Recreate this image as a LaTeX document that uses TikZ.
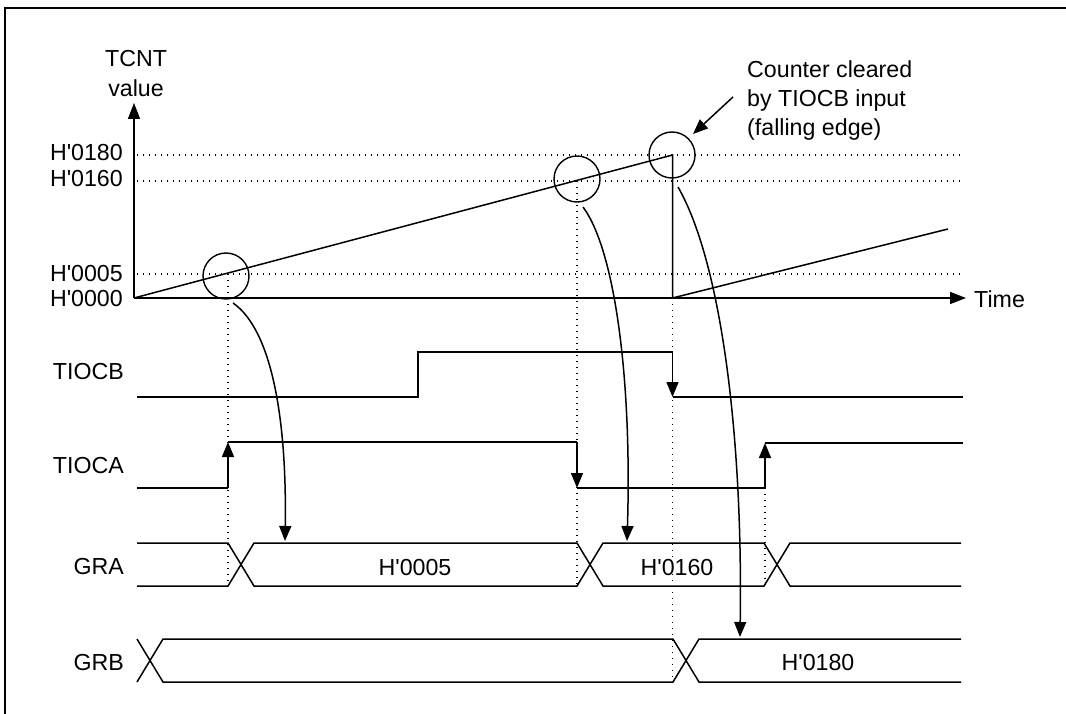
\documentclass[tikz,border=0pt]{standalone}
\usepackage{fontspec}
\newfontfamily\arialfont{Liberation Sans}
\usetikzlibrary{arrows.meta}
\begin{document}
\begin{tikzpicture}[x=1pt,y=-1pt,
  wire/.style={line width=1.5pt, line join=miter},
  dots/.style={line width=1.2pt, dash pattern=on 1.2pt off 4.8pt},
  tip/.style={-{Triangle[length=15pt,width=12pt]}},
  lbl/.style={font=\arialfont\fontsize{23.2}{27}\selectfont, inner sep=0pt},
  ring/.style={circle, draw, line width=1.4pt, minimum size=46pt, inner sep=0pt},
]
\useasboundingbox (0,0) rectangle (1066,714);
% frame
\draw[line width=1.5pt] (5,714) -- (5,8) -- (1066,8);

% axes
\coordinate (O) at (134,298);
\coordinate (ytop) at (134,103);
\coordinate (xend) at (966,298);
\draw[wire,-{Triangle[length=16pt,width=12pt]}] (O) -- (ytop);
\draw[wire,-{Triangle[length=16pt,width=12pt]}] (O) -- (xend);
\node[lbl,anchor=base] (tcnt) at (136,67) {TCNT};
\node[lbl,anchor=base] (val) at (136,97) {value};
\node[lbl,anchor=base west] (time) at (974,307) {Time};

% value labels
\node[lbl,anchor=base east] (h180) at (123,161) {H'0180};
\node[lbl,anchor=base east] (h160) at (123,187) {H'0160};
\node[lbl,anchor=base east] (h005) at (123,282) {H'0005};
\node[lbl,anchor=base east] (h000) at (123,306) {H'0000};

% horizontal dotted levels
\draw[dots] (137,155) -- (963,155);
\draw[dots] (137,181) -- (963,181);
\draw[dots] (137,274) -- (963,274);

% counter ramp
\coordinate (peak) at (672.5,155);
\coordinate (clr) at (672.5,298);
\coordinate (rend) at (948,229);
\draw[wire] (O) -- (peak) -- (clr) -- (rend);

% circles
\node[ring] (c1) at (226,276) {};
\node[ring] (c2) at (577,179) {};
\node[ring] (c3) at (672,155) {};

% vertical dotted lines
\draw[dots] (228,274) -- (228,586);
\draw[dots] (577,181) -- (577,586);
\draw[dots] (672.5,298) -- (672.5,682);
\draw[dots] (765,488) -- (765,586);

% annotation
\node[lbl,anchor=base west] (cc1) at (747,78) {Counter cleared};
\node[lbl,anchor=base west] (cc2) at (747,107) {by TIOCB input};
\node[lbl,anchor=base west] (cc3) at (747,136) {(falling edge)};
\coordinate (ann) at (733,97);
\draw[wire,-{Triangle[length=15pt,width=12pt]}] (ann) -- (693,134);

% signal labels
\node[lbl,anchor=base east] (ltiocb) at (124,379) {TIOCB};
\node[lbl,anchor=base east] (ltioca) at (124,473) {TIOCA};
\node[lbl,anchor=base east] (lgra) at (124,574) {GRA};
\node[lbl,anchor=base east] (lgrb) at (124,670) {GRB};

% TIOCB
\draw[wire] (137,397) -- (418,397) -- (418,352) -- (672.5,352);
\draw[wire,tip] (672.5,352) -- (672.5,397);
\draw[wire] (672.5,397) -- (963,397);

% TIOCA
\draw[wire] (137,488) -- (228,488);
\draw[wire,tip] (228,488) -- (228,442);
\draw[wire] (228,442) -- (577,442);
\draw[wire,tip] (577,442) -- (577,488);
\draw[wire] (577,488) -- (765,488);
\draw[wire,tip] (765,488) -- (765,443);
\draw[wire] (765,443) -- (963,443);

% GRA bus
\draw[wire] (137,543) -- (228,543) -- (254,586) -- (577,586) -- (603,543) -- (764,543) -- (790,586) -- (961,586);
\draw[wire] (137,586) -- (228,586) -- (254,543) -- (577,543) -- (603,586) -- (764,586) -- (790,543) -- (961,543);
\node[lbl,anchor=base] (v005) at (415,575) {H'0005};
\node[lbl,anchor=base] (v160) at (677,575) {H'0160};

% GRB bus
\draw[wire] (137,639) -- (163,682) -- (673,682) -- (699,639) -- (961,639);
\draw[wire] (137,682) -- (163,639) -- (673,639) -- (699,682) -- (961,682);
\node[lbl,anchor=base] (v180) at (818,670) {H'0180};

% transfer arrows
\coordinate (s1) at (233,303);
\coordinate (e1) at (285,541);
\coordinate (s2) at (583,207);
\coordinate (e2) at (627,541);
\coordinate (s3) at (678,187);
\coordinate (e3) at (740,637);
\draw[wire,tip] (s1) .. controls (272,330) and (287,420) .. (e1);
\draw[wire,tip] (s2) .. controls (615,250) and (632,380) .. (e2);
\draw[wire,tip] (s3) .. controls (720,260) and (743,430) .. (e3);
\end{tikzpicture}
\end{document}
